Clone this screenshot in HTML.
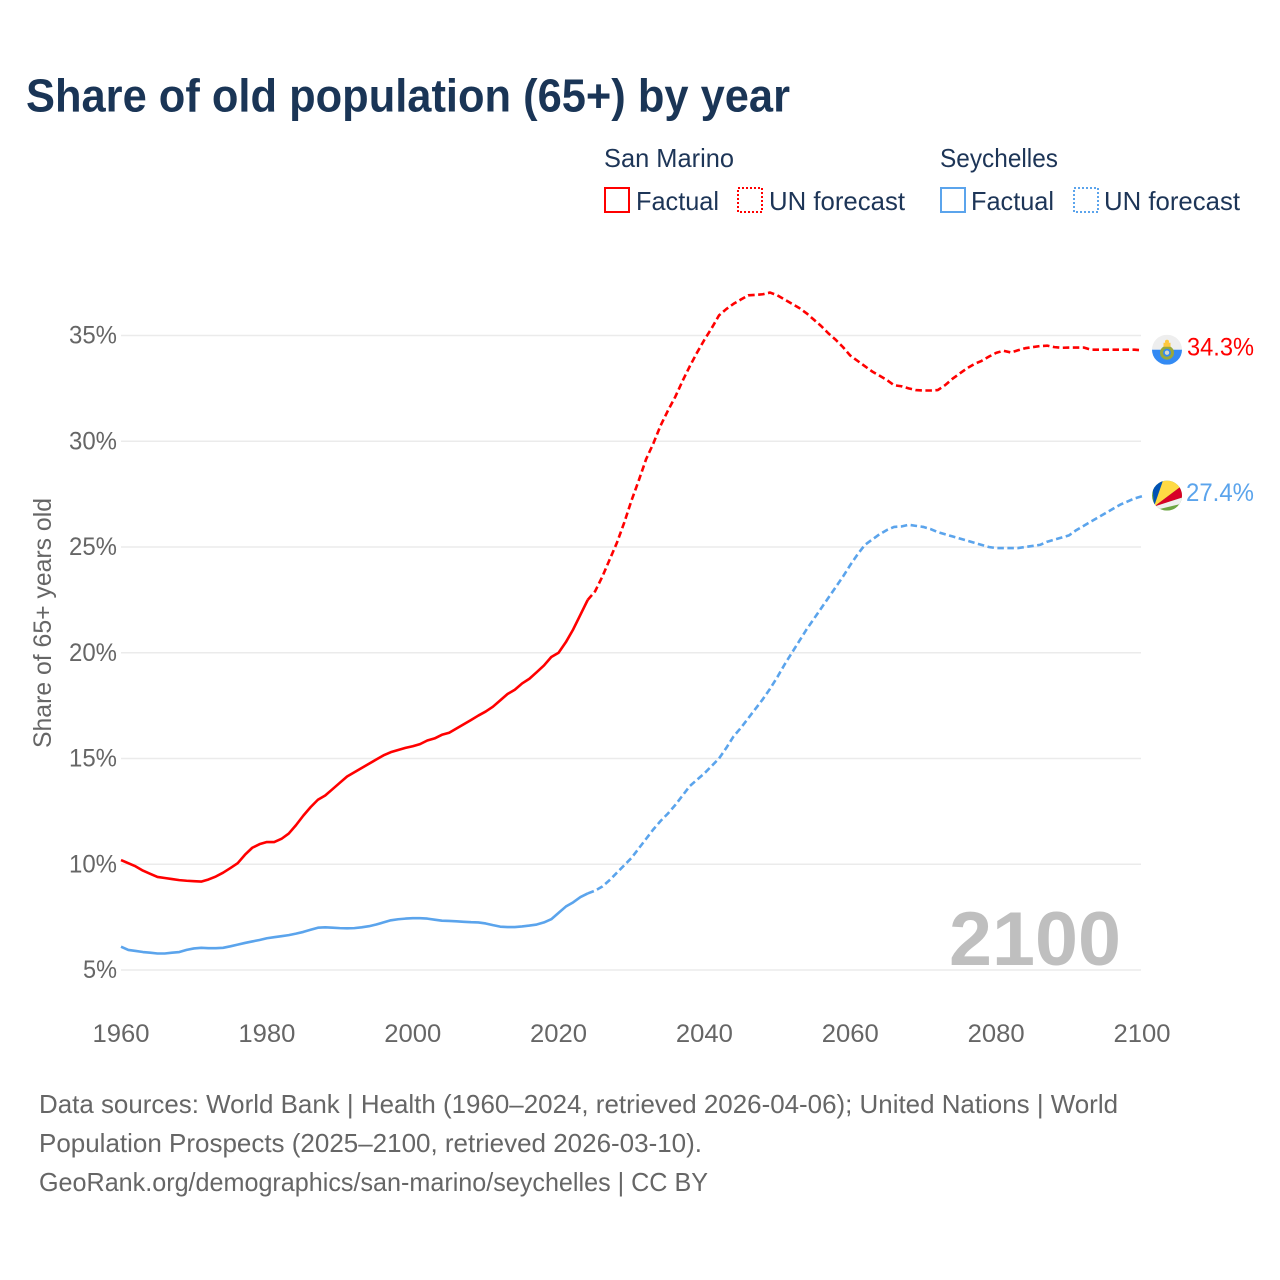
<!DOCTYPE html>
<html lang="en">
<head>
<meta charset="utf-8">
<title>Share of old population (65+) by year</title>
<style>
html,body{margin:0;padding:0;background:#fff;width:1280px;height:1280px;overflow:hidden}
svg{display:block}
text{font-family:"Liberation Sans",sans-serif}
</style>
</head>
<body>
<svg id="chart" width="1280" height="1280" viewBox="0 0 1280 1280" xmlns="http://www.w3.org/2000/svg">
  <defs>
    <clipPath id="flag-clip-a"><circle cx="0" cy="0" r="15"/></clipPath>
    <clipPath id="flag-clip-b"><circle cx="0" cy="0" r="15"/></clipPath>
  </defs>
  <rect width="1280" height="1280" fill="#fff"/>
  <text x="26" y="111.5" font-size="46" font-weight="700" fill="#1a3556" textLength="764" lengthAdjust="spacingAndGlyphs">Share of old population (65+) by year</text>

  <g font-size="26" fill="#1d3557">
    <text x="604" y="167" textLength="130" lengthAdjust="spacingAndGlyphs">San Marino</text>
    <rect x="605" y="188" width="24" height="24" fill="none" stroke="#ff0000" stroke-width="2"/>
    <text x="636" y="210" textLength="83" lengthAdjust="spacingAndGlyphs">Factual</text>
    <rect x="738" y="188" width="24" height="24" fill="none" stroke="#ff0000" stroke-width="2" stroke-dasharray="2 2"/>
    <text x="769" y="210" textLength="136" lengthAdjust="spacingAndGlyphs">UN forecast</text>
    <text x="940" y="167" textLength="118" lengthAdjust="spacingAndGlyphs">Seychelles</text>
    <rect x="941" y="188" width="24" height="24" fill="none" stroke="#5ba4ec" stroke-width="2"/>
    <text x="971" y="210" textLength="83" lengthAdjust="spacingAndGlyphs">Factual</text>
    <rect x="1074" y="188" width="24" height="24" fill="none" stroke="#5ba4ec" stroke-width="2" stroke-dasharray="2 2"/>
    <text x="1104" y="210" textLength="136" lengthAdjust="spacingAndGlyphs">UN forecast</text>
  </g>

  <g id="grid"></g>
  <g id="yticks"></g>
  <g id="xticks"></g>
  <text transform="translate(51,748) rotate(-90)" font-size="25" fill="#666" textLength="250" lengthAdjust="spacingAndGlyphs">Share of 65+ years old</text>
  <text x="949" y="965" font-size="76" font-weight="700" fill="#bfbfbf" textLength="172" lengthAdjust="spacingAndGlyphs">2100</text>
  <g id="series"></g>

  <g id="flag-sm">
    <g clip-path="url(#flag-clip-a)">
      <rect x="-15" y="-15" width="30" height="15" fill="#eeeeee"/>
      <rect x="-15" y="0" width="30" height="15" fill="#338af3"/>
      <circle cx="0" cy="3" r="5.5" fill="#338af3" stroke="#9aa83a" stroke-width="3"/>
      <path d="M-3.5 -7h7v4h-7z" fill="#ffc83d"/>
      <circle cx="0" cy="-8" r="2" fill="#ffc83d"/>
      <circle cx="0" cy="3" r="2.2" fill="#d8d8c8"/>
    </g>
  </g>
  <g id="flag-sc">
    <g clip-path="url(#flag-clip-b)">
      <rect x="-15" y="-15" width="30" height="30" fill="#6da544"/>
      <path d="M-13 11 L-15 -15 L-4 -15 Z" fill="#0052b4"/>
      <path d="M-13 11 L-4 -15 L15 -15 L15 -10 Z" fill="#ffda44"/>
      <path d="M-13 11 L15 -10 L15 2 Z" fill="#d80027"/>
      <path d="M-13 11 L15 2 L15 8 L-10 14 Z" fill="#f0f0f0"/>
    </g>
  </g>
  <text id="label-sm" x="1187" font-size="25" fill="#ff0000" textLength="67" lengthAdjust="spacingAndGlyphs"></text>
  <text id="label-sc" x="1186" font-size="25" fill="#5ba4ec" textLength="68" lengthAdjust="spacingAndGlyphs"></text>

  <g font-size="26" fill="#666">
    <text x="39" y="1113" textLength="1079" lengthAdjust="spacingAndGlyphs">Data sources: World Bank | Health (1960–2024, retrieved 2026-04-06); United Nations | World</text>
    <text x="39" y="1152" textLength="663" lengthAdjust="spacingAndGlyphs">Population Prospects (2025–2100, retrieved 2026-03-10).</text>
    <text x="39" y="1191" textLength="669" lengthAdjust="spacingAndGlyphs">GeoRank.org/demographics/san-marino/seychelles | CC BY</text>
  </g>
</svg>
<script>
const xTickYears = [1960, 1980, 2000, 2020, 2040, 2060, 2080, 2100];
const yTickValues = [5, 10, 15, 20, 25, 30, 35];
const factualStartYear = 1960;
const forecastStartYear = 2024;

const sanMarinoFactual = [10.2,10.05,9.9,9.7,9.55,9.4,9.35,9.3,9.25,9.22,
  9.2,9.18,9.28,9.42,9.6,9.82,10.05,10.45,10.78,10.95,
  11.05,11.05,11.2,11.45,11.85,12.3,12.7,13.05,13.25,13.55,
  13.85,14.15,14.35,14.55,14.75,14.95,15.15,15.3,15.4,15.5,
  15.58,15.68,15.85,15.95,16.12,16.22,16.42,16.62,16.82,17.03,
  17.22,17.45,17.75,18.05,18.25,18.55,18.77,19.08,19.4,19.8,
  20.0,20.5,21.1,21.8,22.5];
const sanMarinoForecast = [22.5,22.9,23.6,24.4,25.2,26.15,27.2,28.15,29.15,29.9,30.75,
  31.45,32.1,32.85,33.55,34.2,34.8,35.35,35.95,36.25,36.5,
  36.7,36.9,36.92,36.95,37.03,36.9,36.7,36.5,36.3,36.05,
  35.75,35.45,35.1,34.8,34.45,34.05,33.8,33.55,33.3,33.1,
  32.9,32.65,32.6,32.5,32.42,32.4,32.4,32.42,32.65,32.95,
  33.2,33.45,33.65,33.8,34.0,34.18,34.28,34.2,34.3,34.4,
  34.45,34.5,34.52,34.45,34.42,34.43,34.43,34.43,34.33,34.33,
  34.33,34.33,34.33,34.33,34.33,34.3];
const seychellesFactual = [6.1,5.95,5.9,5.85,5.82,5.78,5.78,5.82,5.85,5.95,
  6.02,6.05,6.03,6.03,6.05,6.12,6.2,6.28,6.35,6.42,
  6.5,6.55,6.6,6.65,6.72,6.8,6.9,7.0,7.02,7.0,
  6.98,6.97,6.98,7.02,7.07,7.15,7.25,7.35,7.4,7.43,
  7.45,7.45,7.43,7.38,7.33,7.32,7.3,7.28,7.26,7.25,
  7.2,7.12,7.05,7.03,7.03,7.06,7.1,7.15,7.25,7.4,
  7.7,8.0,8.2,8.45,8.62];
const seychellesForecast = [8.62,8.75,8.95,9.25,9.6,9.95,10.3,10.75,11.2,11.65,12.05,
  12.4,12.8,13.25,13.7,14.0,14.3,14.65,15.0,15.5,16.05,
  16.45,16.9,17.35,17.8,18.3,18.85,19.45,20.0,20.55,21.1,
  21.6,22.1,22.6,23.1,23.6,24.15,24.65,25.1,25.35,25.6,
  25.8,25.95,25.97,26.05,26.0,25.95,25.85,25.7,25.6,25.5,
  25.4,25.3,25.2,25.1,25.0,24.95,24.95,24.95,24.95,25.0,
  25.05,25.1,25.25,25.35,25.45,25.55,25.8,26.0,26.2,26.4,
  26.6,26.8,27.0,27.15,27.3,27.4];

const SVG_NS = 'http://www.w3.org/2000/svg';
function xScale(year) { return 121 + (year - 1960) * (1142 - 121) / 140; }
function yScale(v) { return 970 - (v - 5) * (970 - 335.5) / 30; }

const gridGroup = document.getElementById('grid');
const yGroup = document.getElementById('yticks');
const xGroup = document.getElementById('xticks');
const seriesGroup = document.getElementById('series');

yTickValues.forEach(function (v) {
  const line = document.createElementNS(SVG_NS, 'line');
  
  
  line.setAttribute('x1', 121);
  line.setAttribute('x2', 1141);
  line.setAttribute('y1', yScale(v));
  line.setAttribute('y2', yScale(v));
  line.setAttribute('stroke', '#ebebeb');
  line.setAttribute('stroke-width', '1.5');
  gridGroup.appendChild(line);

  const label = document.createElementNS(SVG_NS, 'text');
  
  
  label.setAttribute('x', v < 10 ? 83 : 69);
  label.setAttribute('y', yScale(v) + 8);
  label.setAttribute('font-size', '25');
  label.setAttribute('fill', '#666');
  label.setAttribute('textLength', v < 10 ? 34 : 48);
  label.setAttribute('lengthAdjust', 'spacingAndGlyphs');
  label.textContent = v + '%';
  yGroup.appendChild(label);
});

xTickYears.forEach(function (year) {
  const label = document.createElementNS(SVG_NS, 'text');
  
  
  label.setAttribute('x', xScale(year) - 28.5);
  label.setAttribute('y', 1042);
  label.setAttribute('font-size', '25');
  label.setAttribute('fill', '#666');
  label.setAttribute('textLength', 57);
  label.setAttribute('lengthAdjust', 'spacingAndGlyphs');
  label.textContent = year;
  xGroup.appendChild(label);
});

function linePath(values, startYear) {
  return values.map(function (v, i) {
    return (i ? 'L' : 'M') + xScale(startYear + i).toFixed(2) + ' ' + yScale(v).toFixed(2);
  }).join(' ');
}

function drawSeries(values, startYear, color, dashed, name) {
  const path = document.createElementNS(SVG_NS, 'path');
  
  
  path.setAttribute('d', linePath(values, startYear));
  path.setAttribute('fill', 'none');
  path.setAttribute('stroke', color);
  path.setAttribute('stroke-width', '2.6');
  path.setAttribute('stroke-linejoin', 'round');
  if (dashed) { path.setAttribute('stroke-dasharray', '6.5 3.5'); }
  seriesGroup.appendChild(path);
}

drawSeries(seychellesFactual, factualStartYear, '#5ba4ec', false, 'seychelles-factual-line');
drawSeries(seychellesForecast, forecastStartYear, '#5ba4ec', true, 'seychelles-forecast-line');
drawSeries(sanMarinoFactual, factualStartYear, '#ff0000', false, 'san-marino-factual-line');
drawSeries(sanMarinoForecast, forecastStartYear, '#ff0000', true, 'san-marino-forecast-line');

function placeEnd(values, flagId, labelId) {
  const last = values[values.length - 1];
  const yPos = yScale(last);
  document.getElementById(flagId).setAttribute('transform', 'translate(1167,' + (yPos - 0.6) + ')');
  const label = document.getElementById(labelId);
  label.setAttribute('y', yPos + 5);
  label.textContent = last.toFixed(1) + '%';
}
placeEnd(sanMarinoForecast, 'flag-sm', 'label-sm');
placeEnd(seychellesForecast, 'flag-sc', 'label-sc');
</script>
</body>
</html>
